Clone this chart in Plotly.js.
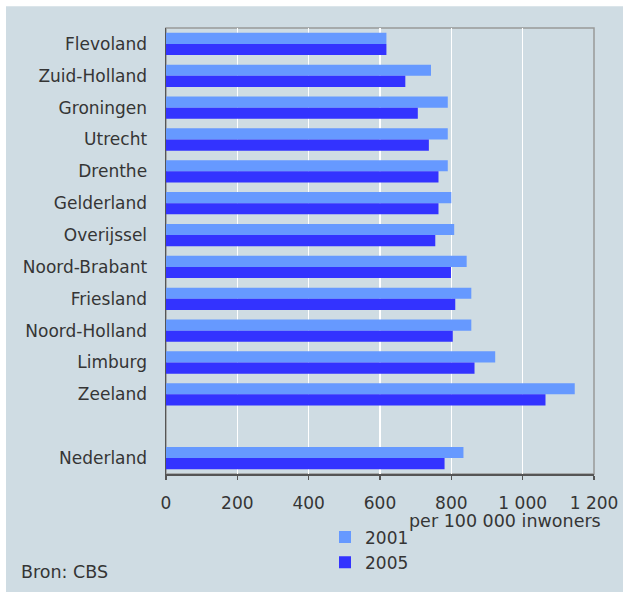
<!DOCTYPE html>
<html>
<head>
<meta charset="utf-8">
<script src="https://cdn.plot.ly/plotly-3.0.1.min.js"></script>
<style>html,body{margin:0;padding:0;background:#fff;}#chart{width:623px;height:592px;}</style>
</head>
<body>
<div id="chart"></div>
<script>
const categories = ['Flevoland','Zuid-Holland','Groningen','Utrecht','Drenthe','Gelderland','Overijssel','Noord-Brabant','Friesland','Noord-Holland','Limburg','Zeeland',' ','Nederland'];
const values2001 = [618, 743, 790, 790, 790, 800, 808, 843, 856, 856, 923, 1146, null, 834];
const values2005 = [618, 671, 706, 737, 764, 764, 755, 799, 811, 804, 865, 1064, null, 781];
const tickValues = [0, 200, 400, 600, 800, 1000, 1200];
const seriesNames = ['2001', '2005'];

const bg = '#cfdce3';
const font = 'DejaVu Sans, Verdana, sans-serif';
const txt = '#353535';

const traces = [
  {type:'bar', orientation:'h', name:seriesNames[0], y:categories, x:values2001,
   marker:{color:'#6699ff', line:{width:0}}, legendgroup:'a', hoverinfo:'skip'},
  {type:'bar', orientation:'h', name:seriesNames[1], y:categories, x:values2005,
   marker:{color:'#3333ff', line:{width:0}}, legendgroup:'b', hoverinfo:'skip'}
];

const layout = {
  width:623, height:592,
  margin:{l:166, r:29, t:28, b:113, pad:0},
  paper_bgcolor:bg,
  plot_bgcolor:bg,
  separators:', ',
  barmode:'group',
  bargap:0.3,
  bargroupgap:0,
  font:{family:font, size:17, color:txt},
  showlegend:true,
  legend:{x:0.3715, y:-0.102, xanchor:'left', yanchor:'top', orientation:'v',
          bgcolor:'rgba(0,0,0,0)', font:{family:font, size:17, color:txt},
          traceorder:'grouped', tracegroupgap:0, itemwidth:30},
  xaxis:{range:[0,1200], tickvals:tickValues, tickformat:',d',
         showgrid:true, gridcolor:'#ffffff', gridwidth:1.5,
         zeroline:false, showline:true, linecolor:'#555', linewidth:1.5,
         ticks:'outside', ticklen:4, tickcolor:'#555', tickwidth:1.2,
         ticklabelstandoff:9,
         tickfont:{family:font, size:17, color:txt}, fixedrange:true},
  yaxis:{type:'category', categoryorder:'array', categoryarray:categories,
         autorange:'reversed', showgrid:false, zeroline:false,
         showline:true, linecolor:'#555', linewidth:1.5, ticks:'',
         ticklabelstandoff:14,
         tickfont:{family:font, size:17, color:txt}, fixedrange:true},
  shapes:[
    {type:'rect', xref:'paper', yref:'paper', x0:0, x1:1, y0:0, y1:1,
     line:{color:'#999', width:1.5}, fillcolor:'rgba(0,0,0,0)', layer:'below'},
    {type:'rect', xref:'paper', yref:'paper', x0:-0.4, x1:1.1, y0:1.0488, y1:1.08,
     line:{width:0}, fillcolor:'#ffffff'},
    {type:'rect', xref:'paper', yref:'paper', x0:-0.4, x1:-0.3738, y0:-0.3, y1:1.08,
     line:{width:0}, fillcolor:'#ffffff'}
  ],
  annotations:[
    {text:'per 100 000 inwoners', xref:'paper', yref:'paper', x:1.0215, y:-0.106,
     xanchor:'right', yanchor:'middle', showarrow:false,
     font:{family:font, size:17.5, color:txt}},
    {text:'Bron: CBS', xref:'paper', yref:'paper', x:-0.3435, y:-0.219,
     xanchor:'left', yanchor:'middle', showarrow:false,
     font:{family:font, size:17.5, color:txt}}
  ]
};

Plotly.newPlot('chart', traces, layout, {staticPlot:true, displayModeBar:false});
</script>
</body>
</html>
